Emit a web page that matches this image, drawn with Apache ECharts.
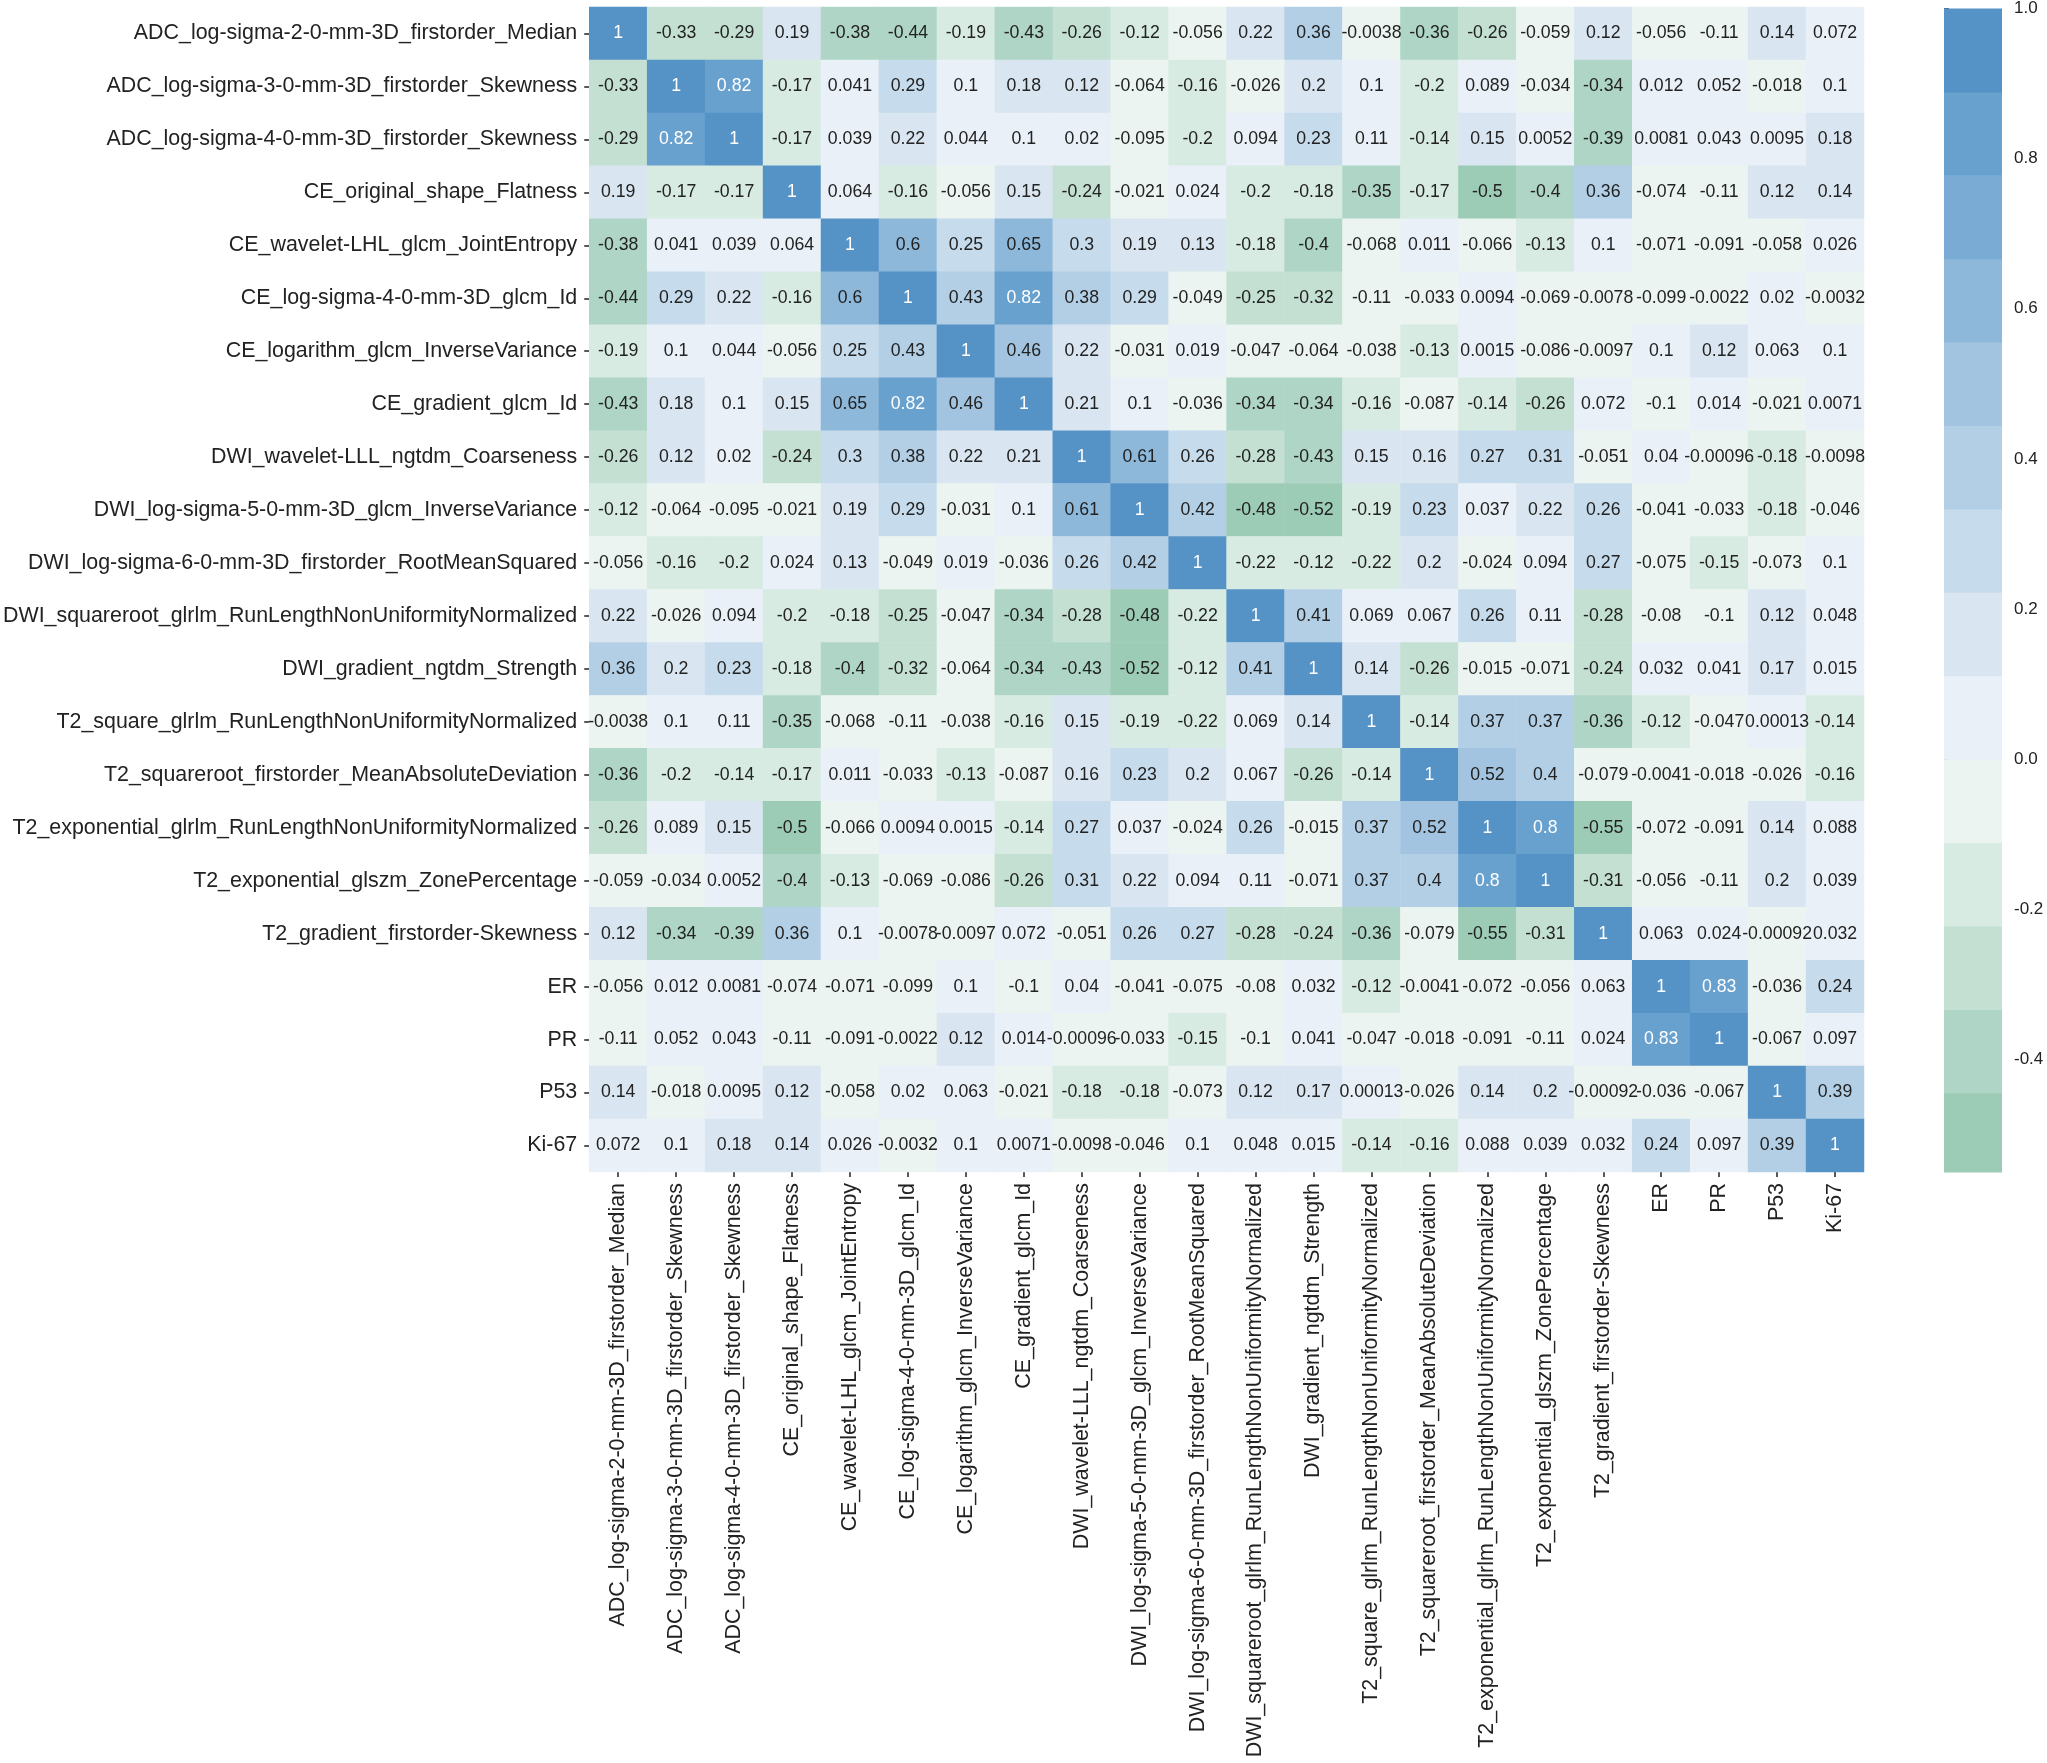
<!DOCTYPE html>
<html>
<head>
<meta charset="utf-8">
<title>Correlation heatmap</title>
<script src="https://cdn.jsdelivr.net/npm/echarts@6/dist/echarts.min.js"></script>
<style>
  html, body { margin: 0; padding: 0; background: #fff; }
  #chart { width: 2047px; height: 1763px; }
</style>
</head>
<body>
<div id="chart"></div>
<script>
// feature names (same order on both axes)
const labels = [
  'ADC_log-sigma-2-0-mm-3D_firstorder_Median',
  'ADC_log-sigma-3-0-mm-3D_firstorder_Skewness',
  'ADC_log-sigma-4-0-mm-3D_firstorder_Skewness',
  'CE_original_shape_Flatness',
  'CE_wavelet-LHL_glcm_JointEntropy',
  'CE_log-sigma-4-0-mm-3D_glcm_Id',
  'CE_logarithm_glcm_InverseVariance',
  'CE_gradient_glcm_Id',
  'DWI_wavelet-LLL_ngtdm_Coarseness',
  'DWI_log-sigma-5-0-mm-3D_glcm_InverseVariance',
  'DWI_log-sigma-6-0-mm-3D_firstorder_RootMeanSquared',
  'DWI_squareroot_glrlm_RunLengthNonUniformityNormalized',
  'DWI_gradient_ngtdm_Strength',
  'T2_square_glrlm_RunLengthNonUniformityNormalized',
  'T2_squareroot_firstorder_MeanAbsoluteDeviation',
  'T2_exponential_glrlm_RunLengthNonUniformityNormalized',
  'T2_exponential_glszm_ZonePercentage',
  'T2_gradient_firstorder-Skewness',
  'ER', 'PR', 'P53', 'Ki-67'
];

// correlation matrix, one row per feature
const corrRows = [
  [1, -0.33, -0.29, 0.19, -0.38, -0.44, -0.19, -0.43, -0.26, -0.12, -0.056, 0.22, 0.36, -0.0038, -0.36, -0.26, -0.059, 0.12, -0.056, -0.11, 0.14, 0.072],
  [-0.33, 1, 0.82, -0.17, 0.041, 0.29, 0.1, 0.18, 0.12, -0.064, -0.16, -0.026, 0.2, 0.1, -0.2, 0.089, -0.034, -0.34, 0.012, 0.052, -0.018, 0.1],
  [-0.29, 0.82, 1, -0.17, 0.039, 0.22, 0.044, 0.1, 0.02, -0.095, -0.2, 0.094, 0.23, 0.11, -0.14, 0.15, 0.0052, -0.39, 0.0081, 0.043, 0.0095, 0.18],
  [0.19, -0.17, -0.17, 1, 0.064, -0.16, -0.056, 0.15, -0.24, -0.021, 0.024, -0.2, -0.18, -0.35, -0.17, -0.5, -0.4, 0.36, -0.074, -0.11, 0.12, 0.14],
  [-0.38, 0.041, 0.039, 0.064, 1, 0.6, 0.25, 0.65, 0.3, 0.19, 0.13, -0.18, -0.4, -0.068, 0.011, -0.066, -0.13, 0.1, -0.071, -0.091, -0.058, 0.026],
  [-0.44, 0.29, 0.22, -0.16, 0.6, 1, 0.43, 0.82, 0.38, 0.29, -0.049, -0.25, -0.32, -0.11, -0.033, 0.0094, -0.069, -0.0078, -0.099, -0.0022, 0.02, -0.0032],
  [-0.19, 0.1, 0.044, -0.056, 0.25, 0.43, 1, 0.46, 0.22, -0.031, 0.019, -0.047, -0.064, -0.038, -0.13, 0.0015, -0.086, -0.0097, 0.1, 0.12, 0.063, 0.1],
  [-0.43, 0.18, 0.1, 0.15, 0.65, 0.82, 0.46, 1, 0.21, 0.1, -0.036, -0.34, -0.34, -0.16, -0.087, -0.14, -0.26, 0.072, -0.1, 0.014, -0.021, 0.0071],
  [-0.26, 0.12, 0.02, -0.24, 0.3, 0.38, 0.22, 0.21, 1, 0.61, 0.26, -0.28, -0.43, 0.15, 0.16, 0.27, 0.31, -0.051, 0.04, -0.00096, -0.18, -0.0098],
  [-0.12, -0.064, -0.095, -0.021, 0.19, 0.29, -0.031, 0.1, 0.61, 1, 0.42, -0.48, -0.52, -0.19, 0.23, 0.037, 0.22, 0.26, -0.041, -0.033, -0.18, -0.046],
  [-0.056, -0.16, -0.2, 0.024, 0.13, -0.049, 0.019, -0.036, 0.26, 0.42, 1, -0.22, -0.12, -0.22, 0.2, -0.024, 0.094, 0.27, -0.075, -0.15, -0.073, 0.1],
  [0.22, -0.026, 0.094, -0.2, -0.18, -0.25, -0.047, -0.34, -0.28, -0.48, -0.22, 1, 0.41, 0.069, 0.067, 0.26, 0.11, -0.28, -0.08, -0.1, 0.12, 0.048],
  [0.36, 0.2, 0.23, -0.18, -0.4, -0.32, -0.064, -0.34, -0.43, -0.52, -0.12, 0.41, 1, 0.14, -0.26, -0.015, -0.071, -0.24, 0.032, 0.041, 0.17, 0.015],
  [-0.0038, 0.1, 0.11, -0.35, -0.068, -0.11, -0.038, -0.16, 0.15, -0.19, -0.22, 0.069, 0.14, 1, -0.14, 0.37, 0.37, -0.36, -0.12, -0.047, 0.00013, -0.14],
  [-0.36, -0.2, -0.14, -0.17, 0.011, -0.033, -0.13, -0.087, 0.16, 0.23, 0.2, 0.067, -0.26, -0.14, 1, 0.52, 0.4, -0.079, -0.0041, -0.018, -0.026, -0.16],
  [-0.26, 0.089, 0.15, -0.5, -0.066, 0.0094, 0.0015, -0.14, 0.27, 0.037, -0.024, 0.26, -0.015, 0.37, 0.52, 1, 0.8, -0.55, -0.072, -0.091, 0.14, 0.088],
  [-0.059, -0.034, 0.0052, -0.4, -0.13, -0.069, -0.086, -0.26, 0.31, 0.22, 0.094, 0.11, -0.071, 0.37, 0.4, 0.8, 1, -0.31, -0.056, -0.11, 0.2, 0.039],
  [0.12, -0.34, -0.39, 0.36, 0.1, -0.0078, -0.0097, 0.072, -0.051, 0.26, 0.27, -0.28, -0.24, -0.36, -0.079, -0.55, -0.31, 1, 0.063, 0.024, -0.00092, 0.032],
  [-0.056, 0.012, 0.0081, -0.074, -0.071, -0.099, 0.1, -0.1, 0.04, -0.041, -0.075, -0.08, 0.032, -0.12, -0.0041, -0.072, -0.056, 0.063, 1, 0.83, -0.036, 0.24],
  [-0.11, 0.052, 0.043, -0.11, -0.091, -0.0022, 0.12, 0.014, -0.00096, -0.033, -0.15, -0.1, 0.041, -0.047, -0.018, -0.091, -0.11, 0.024, 0.83, 1, -0.067, 0.097],
  [0.14, -0.018, 0.0095, 0.12, -0.058, 0.02, 0.063, -0.021, -0.18, -0.18, -0.073, 0.12, 0.17, 0.00013, -0.026, 0.14, 0.2, -0.00092, -0.036, -0.067, 1, 0.39],
  [0.072, 0.1, 0.18, 0.14, 0.026, -0.0032, 0.1, 0.0071, -0.0098, -0.046, 0.1, 0.048, 0.015, -0.14, -0.16, 0.088, 0.039, 0.032, 0.24, 0.097, 0.39, 1]
];

// colour bar range and ticks
const vmin = -0.55;
const vmax = 1.0;
const cbarTicks = [-0.4, -0.2, 0.0, 0.2, 0.4, 0.6, 0.8, 1.0];

// 18-step diverging palette over [-1, 1], only the part in [vmin, vmax] is used
const bandColors = [
  '#9ccbb6', '#aed5c5', '#c3e0d3', '#d7ebe2', '#ebf4f0',
  '#e9f0f8', '#d9e6f1', '#c6dbeb', '#b3cfe6', '#a2c4e0',
  '#8db8da', '#7aabd4', '#68a0ce', '#5592c6'
];
const bandStep = 1 / 9;
const firstEdge = -5 * bandStep;   // lower edge of the lowest band used

const pieces = bandColors.map((c, i) => {
  const lo = i === 0 ? vmin : firstEdge + i * bandStep;
  const hi = i === bandColors.length - 1 ? vmax : firstEdge + (i + 1) * bandStep;
  return { lo, hi, color: c };
});

const FONT = '"Liberation Sans", Arial, Helvetica, sans-serif';
const TEXT = '#222222';

const cells = [];
corrRows.forEach((row, y) => {
  row.forEach((v, x) => {
    cells.push({
      value: [x, y, v],
      label: { color: v >= 2 / 3 ? '#ffffff' : TEXT }
    });
  });
});

const chart = echarts.init(document.getElementById('chart'), null, { renderer: 'canvas' });

chart.setOption({
  backgroundColor: '#ffffff',
  animation: false,
  grid: [
    { left: 588, top: 7, width: 1276, height: 1165 },
    { left: 1944, top: 7, width: 58, height: 1165 }
  ],
  xAxis: [
    {
      gridIndex: 0,
      type: 'category',
      data: labels,
      position: 'bottom',
      axisLine: { show: false },
      axisTick: { show: true, alignWithLabel: true, length: 5, lineStyle: { color: TEXT, width: 1.5 } },
      axisLabel: { rotate: 90, interval: 0, margin: 11, fontSize: 21.4, color: TEXT, fontFamily: FONT },
      splitLine: { show: false }
    },
    {
      gridIndex: 1,
      type: 'value',
      min: 0,
      max: 1,
      show: false
    }
  ],
  yAxis: [
    {
      gridIndex: 0,
      type: 'category',
      data: labels,
      inverse: true,
      axisLine: { show: false },
      axisTick: { show: true, alignWithLabel: true, length: 5, lineStyle: { color: TEXT, width: 1.5 } },
      axisLabel: { interval: 0, margin: 12, fontSize: 21.4, color: TEXT, fontFamily: FONT },
      splitLine: { show: false }
    },
    {
      gridIndex: 1,
      type: 'value',
      min: vmin,
      max: vmax,
      position: 'right',
      axisLine: { show: false },
      splitLine: { show: false },
      axisTick: {
        show: true,
        length: 5,
        customValues: cbarTicks,
        lineStyle: { color: TEXT, width: 1.5 }
      },
      axisLabel: {
        customValues: cbarTicks,
        margin: 12,
        fontSize: 17,
        color: TEXT,
        fontFamily: FONT,
        formatter: v => v.toFixed(1)
      }
    }
  ],
  visualMap: {
    type: 'piecewise',
    show: false,
    dimension: 2,
    seriesIndex: 0,
    pieces: pieces.map((p, i) => i === pieces.length - 1
      ? { gte: p.lo, lte: p.hi, color: p.color }
      : { gte: p.lo, lt: p.hi, color: p.color })
  },
  series: [
    {
      type: 'heatmap',
      xAxisIndex: 0,
      yAxisIndex: 0,
      data: cells,
      label: {
        show: true,
        fontSize: 17.7,
        fontFamily: FONT,
        formatter: p => String(p.value[2])
      },
      itemStyle: { borderWidth: 0 },
      emphasis: { disabled: true }
    },
    {
      // colour bar bands
      type: 'custom',
      xAxisIndex: 1,
      yAxisIndex: 1,
      data: pieces.map(p => [p.lo, p.hi]),
      renderItem: (params, api) => {
        const p0 = api.coord([0, api.value(0)]);
        const p1 = api.coord([1, api.value(1)]);
        return {
          type: 'rect',
          shape: { x: p0[0], y: p1[1], width: p1[0] - p0[0], height: p0[1] - p1[1] + 0.5 },
          style: { fill: pieces[params.dataIndex].color }
        };
      },
      silent: true
    }
  ]
});
</script>
</body>
</html>
